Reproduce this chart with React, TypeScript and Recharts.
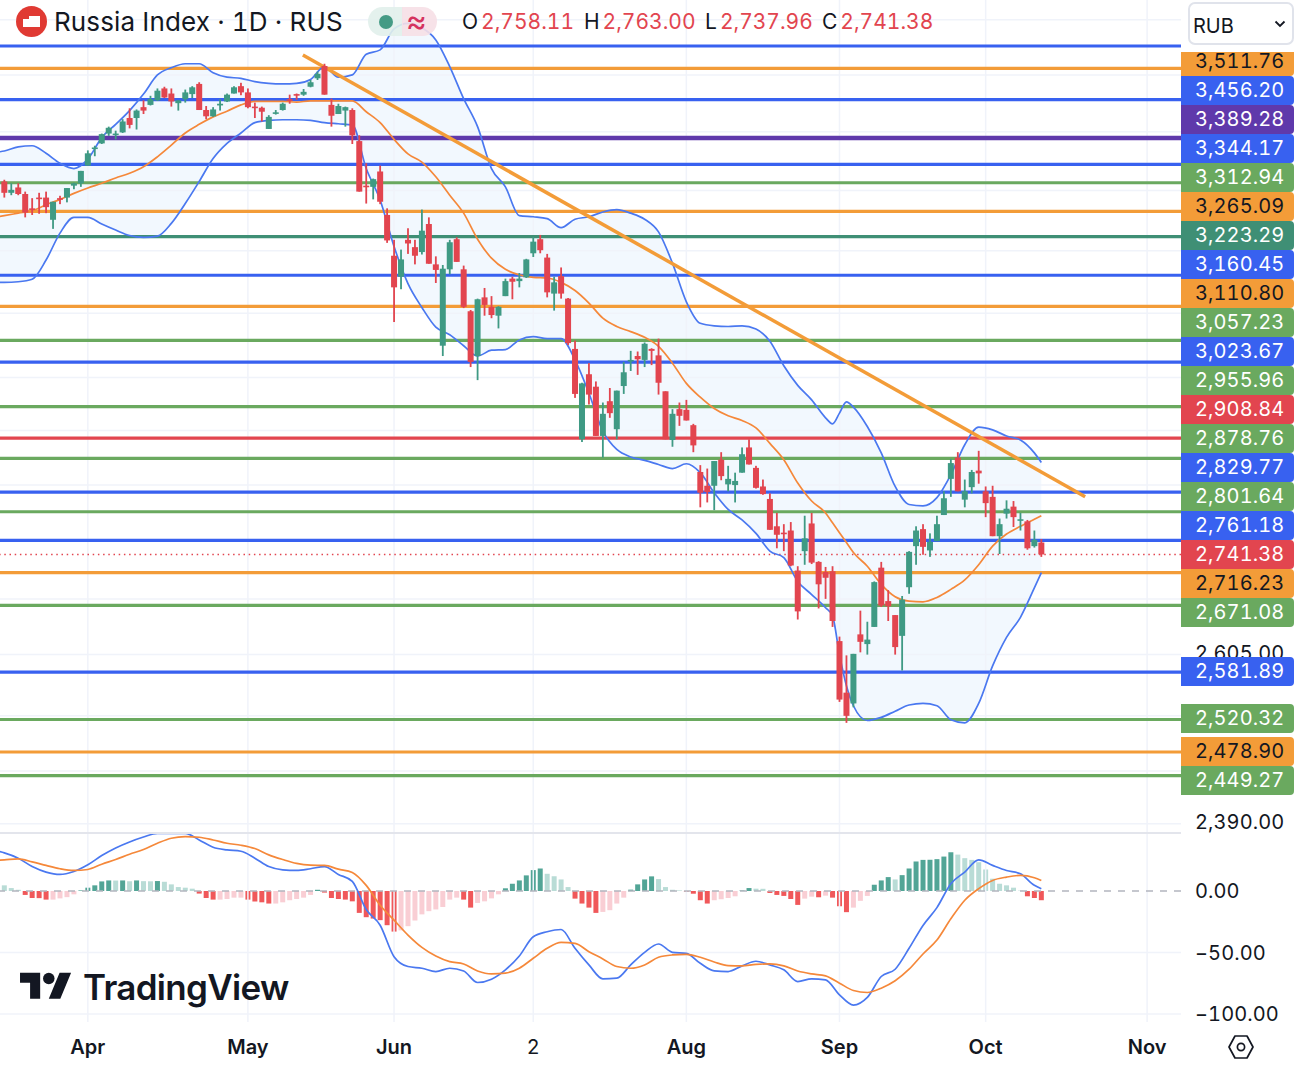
import { Area, Bar, Cell, ComposedChart, Line, ReferenceLine, XAxis, YAxis } from 'recharts'

const opens = [
  3315, 3296, 3305, 3294, 3270, 3288, 3288, 3251, 3287, 3288,
  3308, 3312, 3342, 3371, 3380, 3397, 3396, 3399, 3424, 3424,
  3443, 3447, 3455, 3476, 3467, 3450, 3457, 3466, 3484, 3438,
  3427, 3446, 3453, 3467, 3480, 3469, 3444, 3442, 3405, 3432,
  3438, 3457, 3466, 3465, 3479, 3494, 3516, 3447, 3431, 3437,
  3438, 3384, 3308, 3306, 3332, 3259, 3192, 3158, 3218, 3206,
  3198, 3244, 3178, 3049, 3170, 3219, 3170, 3103, 3033, 3125,
  3110, 3096, 3127, 3155, 3151, 3157, 3196, 3219, 3189, 3131,
  3159, 3123, 3044, 2907, 3005, 2986, 2912, 2964, 2922, 2987,
  3025, 3033, 3027, 3044, 3034, 2979, 2906, 2952, 2951, 2928,
  2859, 2839, 2839, 2877, 2841, 2840, 2858, 2895, 2865, 2838,
  2820, 2781, 2772, 2775, 2719, 2746, 2785, 2731, 2717, 2718,
  2623, 2555, 2541, 2632, 2619, 2642, 2723, 2677, 2658, 2630,
  2696, 2753, 2777, 2747, 2760, 2797, 2849, 2880, 2819, 2837,
  2861, 2831, 2823, 2767, 2799, 2809, 2789, 2788, 2753, 2758.11,
]
const highs = [
  3318, 3312, 3312, 3298, 3287, 3296, 3298, 3281, 3291, 3304,
  3313, 3333, 3368, 3376, 3397, 3409, 3402, 3422, 3441, 3439,
  3455, 3463, 3476, 3479, 3476, 3455, 3474, 3480, 3487, 3445,
  3443, 3457, 3467, 3480, 3486, 3476, 3451, 3444, 3429, 3438,
  3451, 3465, 3467, 3475, 3491, 3506, 3520, 3458, 3449, 3444,
  3441, 3394, 3346, 3320, 3342, 3270, 3218, 3202, 3237, 3218,
  3268, 3255, 3191, 3177, 3218, 3222, 3176, 3105, 3123, 3140,
  3127, 3111, 3155, 3158, 3164, 3187, 3223, 3226, 3195, 3158,
  3173, 3124, 3057, 2992, 3022, 2994, 2962, 2984, 2980, 3024,
  3041, 3040, 3054, 3045, 3060, 2979, 2952, 2962, 2966, 2930,
  2869, 2864, 2875, 2888, 2868, 2858, 2895, 2907, 2868, 2848,
  2828, 2800, 2784, 2787, 2725, 2796, 2800, 2732, 2724, 2725,
  2629, 2604, 2606, 2664, 2649, 2704, 2731, 2692, 2658, 2684,
  2746, 2781, 2784, 2771, 2796, 2831, 2878, 2888, 2848, 2862,
  2890, 2838, 2839, 2792, 2818, 2817, 2800, 2790, 2775, 2763,
]
const lows = [
  3288, 3292, 3292, 3255, 3259, 3261, 3262, 3236, 3277, 3280,
  3302, 3306, 3342, 3358, 3379, 3393, 3387, 3398, 3406, 3404,
  3431, 3446, 3454, 3459, 3444, 3437, 3451, 3459, 3438, 3422,
  3426, 3437, 3452, 3467, 3464, 3441, 3424, 3418, 3405, 3430,
  3437, 3449, 3456, 3463, 3478, 3491, 3465, 3409, 3431, 3409,
  3379, 3298, 3278, 3285, 3277, 3213, 3086, 3138, 3195, 3178,
  3194, 3179, 3148, 3033, 3162, 3182, 3108, 3016, 2996, 3096,
  3092, 3076, 3127, 3122, 3141, 3156, 3190, 3196, 3125, 3104,
  3123, 3050, 2969, 2903, 2959, 2912, 2880, 2939, 2907, 2975,
  3010, 3004, 3016, 3019, 2974, 2907, 2896, 2927, 2935, 2888,
  2808, 2815, 2804, 2847, 2831, 2815, 2858, 2870, 2835, 2826,
  2776, 2750, 2746, 2725, 2652, 2727, 2728, 2667, 2680, 2642,
  2543, 2516, 2536, 2608, 2605, 2642, 2669, 2650, 2605, 2584,
  2687, 2727, 2741, 2738, 2760, 2797, 2823, 2831, 2808, 2828,
  2842, 2794, 2767, 2742, 2792, 2780, 2775, 2748, 2751, 2737.96,
]
const closes = [
  3296, 3301, 3294, 3263, 3269, 3287, 3272, 3281, 3285, 3304,
  3312, 3333, 3363, 3373, 3396, 3407, 3397, 3418, 3412, 3437,
  3437, 3457, 3472, 3460, 3453, 3455, 3469, 3478, 3438, 3427,
  3439, 3449, 3465, 3478, 3469, 3443, 3442, 3435, 3426, 3434,
  3449, 3456, 3464, 3470, 3487, 3502, 3465, 3428, 3445, 3443,
  3394, 3298, 3306, 3319, 3281, 3217, 3141, 3186, 3212, 3192,
  3233, 3179, 3169, 3171, 3214, 3182, 3110, 3024, 3122, 3113,
  3097, 3110, 3151, 3150, 3155, 3186, 3215, 3201, 3133, 3149,
  3131, 3053, 2975, 2991, 2974, 2912, 2945, 2946, 2980, 3008,
  3027, 3028, 3052, 3041, 2992, 2907, 2945, 2942, 2935, 2898,
  2829, 2830, 2875, 2853, 2849, 2846, 2885, 2870, 2836, 2827,
  2776, 2769, 2770, 2726, 2663, 2764, 2730, 2700, 2709, 2650,
  2546, 2525, 2606, 2622, 2625, 2703, 2671, 2670, 2615, 2679,
  2745, 2775, 2752, 2759, 2784, 2821, 2872, 2831, 2831, 2859,
  2857, 2814, 2767, 2784, 2806, 2794, 2791, 2750, 2762, 2741.38,
]

// bollinger vertices, read every second session plus the spike around 119-121
const bandIdx = [
  -1, 0, 2, 4, 6, 8, 10, 12, 14, 16, 18, 20, 22, 24, 26, 28, 30, 32, 34, 36, 38,
  40, 42, 44, 46, 48, 50, 52, 54, 56, 58, 60, 62, 64, 66, 68, 70, 72, 74, 76, 78,
  80, 82, 84, 86, 88, 90, 92, 94, 96, 98, 100, 102, 104, 106, 108, 110, 112, 114, 116, 118,
  119, 120, 121, 122, 124, 126, 128, 130, 132, 134, 136, 138, 140, 142, 144, 146, 148, 149,
]
const bbUpper = [
  3365, 3367, 3374, 3376, 3363, 3346, 3337, 3353, 3390, 3413, 3437, 3466, 3500, 3513, 3520, 3520, 3504, 3496, 3494, 3488, 3485,
  3484, 3485, 3492, 3515, 3496, 3500, 3537, 3545, 3583, 3593, 3585, 3563, 3515, 3458, 3409, 3337, 3306, 3258, 3256, 3253,
  3238, 3252, 3256, 3264, 3268, 3262, 3252, 3231, 3180, 3118, 3084, 3080, 3079, 3080, 3075, 3056, 3018, 2988, 2966, 2939,
  2930, 2946, 2963, 2955, 2926, 2887, 2838, 2812, 2810, 2822, 2855, 2899, 2925, 2921, 2912, 2906, 2887, 2873,
]
const bbLower = [
  3149, 3149, 3150, 3154, 3185, 3229, 3255, 3255, 3244, 3234, 3225, 3222, 3224, 3245, 3278, 3315, 3354, 3380, 3398, 3416, 3420,
  3421, 3421, 3420, 3416, 3414, 3412, 3337, 3284, 3207, 3147, 3109, 3078, 3066, 3049, 3033, 3042, 3043, 3058, 3063, 3060,
  3060, 3027, 2976, 2919, 2892, 2881, 2876, 2870, 2864, 2871, 2858, 2829, 2805, 2790, 2771, 2746, 2737, 2704, 2686, 2668,
  2657, 2605, 2564, 2538, 2519, 2523, 2531, 2539, 2541, 2538, 2520, 2516, 2541, 2590, 2628, 2655, 2695, 2716,
]
const bbBasis = [
  3256, 3258, 3262, 3266, 3276, 3285, 3295, 3304, 3312, 3321, 3329, 3340, 3357, 3377, 3398, 3413, 3426, 3436, 3447, 3453, 3453,
  3453, 3452, 3454, 3454, 3454, 3454, 3435, 3416, 3387, 3362, 3348, 3323, 3292, 3262, 3219, 3188, 3170, 3161, 3157, 3156,
  3149, 3136, 3116, 3092, 3079, 3071, 3062, 3048, 3022, 2991, 2970, 2953, 2942, 2935, 2924, 2901, 2877, 2843, 2817, 2800,
  2786, 2772, 2758, 2744, 2725, 2700, 2683, 2677, 2676, 2682, 2693, 2706, 2727, 2753, 2770, 2781, 2791, 2796,
]

const macdIdx = [
  -1, 0, 2, 4, 6, 8, 10, 12, 14, 16, 18, 20, 22, 24, 26, 28, 30, 32, 34, 36, 38,
  40, 42, 44, 46, 48, 50, 52, 54, 56, 58, 60, 62, 64, 66, 68, 70, 72, 74, 76, 78,
  80, 82, 84, 86, 88, 90, 92, 94, 96, 98, 100, 102, 104, 106, 108, 110, 112, 114, 116, 118,
  120, 122, 124, 126, 128, 130, 132, 134, 136, 138, 140, 142, 144, 146, 148, 149,
]
const macdLine = [
  32.5, 31, 26.7, 19.9, 15.4, 13.5, 15.9, 21.3, 28.8, 35, 39.9, 43.9, 46.9, 46.9, 46.9, 41.5, 35.6, 33.4, 32.3, 26.7, 19.9,
  17.2, 16.7, 18.1, 19.9, 13.5, 7.8, -15.1, -27.8, -53.4, -61.4, -62.8, -65.5, -62.8, -65, -74.4, -71.7, -64.1, -52.8, -37.2, -33.1,
  -31.3, -46.6, -60.1, -71.4, -70.9, -60.1, -49.9, -43.1, -49.9, -50.7, -58.8, -65, -65.5, -60.9, -57.1, -60.1, -64.1, -73.6, -71.4, -72.2,
  -84.4, -92.7, -86.5, -69.5, -63.6, -46.6, -28, -13.5, 5.9, 15.4, 25.3, 20.8, 16.7, 14, 4.6, 1.9,
]
const signalLine = [
  25, 25.3, 26.1, 23.7, 20.8, 18.1, 16.7, 17.5, 21.8, 25.6, 29.9, 33.7, 38.8, 42.9, 44.2, 43.7, 41.5, 38.8, 37.2, 34.5, 29.4,
  25.6, 22.4, 21, 20.8, 17.8, 15.1, 4.6, -11.6, -23.7, -35.8, -45.8, -52.8, -57.4, -59.3, -65, -67.4, -66.8, -62.8, -54.7, -46.6,
  -41.8, -42.6, -49.3, -55.2, -61.4, -62.8, -60.1, -53.9, -52, -51.5, -53.9, -57.7, -60.6, -60.9, -59.6, -59.3, -60.9, -65, -67.4, -69,
  -74.9, -80.9, -82.5, -79, -73, -63.6, -51.2, -39.9, -22.6, -7.5, 1.9, 8.6, 11.3, 12.7, 10.8, 8.6,
]
const histogram = [
  4.6, 2.4, 1, -3.2, -5.7, -5.8, -7, -7, -6, -5,
  -2.7, 0.5, 2.7, 4.6, 7.8, 8.6, 8.5, 8.6, 8, 8.6,
  8, 7.9, 8.1, 7.5, 5.4, 3.2, 2.7, 1.9, -2.1, -5.7,
  -7, -7, -6.5, -5.4, -5.4, -7, -8.6, -9.2, -10.2, -10.2,
  -9.2, -7.5, -6.5, -5.4, -3.2, 1, -1.3, -5.7, -6.5, -7,
  -8.4, -17.8, -21.3, -22.4, -23.7, -27.8, -33, -32, -28.6, -24,
  -19, -16.4, -15, -13, -7, -5.4, -7, -13.5, -9.7, -8.4,
  -6, -2.7, 2.2, 5.9, 8.6, 12.7, 17, 18.3, 14, 12,
  9.4, 3.2, -6.2, -10.2, -13.5, -17.8, -17, -15.6, -10.2, -5.4,
  1.1, 5.4, 9.4, 11.9, 9.7, 3.2, 1, 0.5, -0.5, -2.2,
  -7.5, -10.2, -7.5, -6.7, -5.7, -4.3, 0.5, 2.4, 1.9, 1.8,
  -1.6, -3.2, -4, -6.5, -11.3, -6.2, -4.6, -5.1, -3.8, -5.4,
  -12.4, -17.2, -13.5, -8, -4, 5.1, 8.6, 11.3, 9.4, 12.9,
  18.3, 24, 25.3, 25.4, 25.9, 28, 31.5, 29.6, 26.7, 25.3,
  23.4, 17.5, 10, 5.9, 4.6, 2.7, 0.3, -4.3, -5.7, -7.5,
]

const gridPrices = [3600, 3500, 3400, 3300, 3200, 3100, 3000, 2920, 2840, 2760, 2680, 2605, 2525, 2455, 2390]
const priceTicks = [2605, 2390]
const macdTicks = [0, -50, -100]
const monthTicks = [12, 35, 56, 76, 98, 120, 141, 164.2]
const monthLabels = ['Apr', 'May', 'Jun', '2', 'Aug', 'Sep', 'Oct', 'Nov']

const BLUE = '#3861f0'
const ORANGE = '#f39c38'
const GREEN = '#6aa95f'
const TEAL = '#3f8f75'
const PURPLE = '#5f39ab'
const RED = '#e2454f'

const levelPrices = [
  3552, 3511.76, 3456.2, 3389.28, 3344.17, 3312.94, 3265.09, 3223.29, 3160.45, 3110.8, 3057.23, 3023.67,
  2955.96, 2908.84, 2878.76, 2829.77, 2801.64, 2761.18, 2716.23, 2671.08, 2581.89, 2520.32, 2478.9, 2449.27,
]
const levelColors = [
  BLUE, ORANGE, BLUE, PURPLE, BLUE, GREEN, ORANGE, TEAL, BLUE, ORANGE, GREEN, BLUE,
  GREEN, RED, GREEN, BLUE, GREEN, BLUE, ORANGE, GREEN, BLUE, GREEN, ORANGE, GREEN,
]

const tagLabels = [
  '3,511.76', '3,456.20', '3,389.28', '3,344.17', '3,312.94', '3,265.09', '3,223.29', '3,160.45', '3,110.80', '3,057.23',
  '3,023.67', '2,955.96', '2,908.84', '2,878.76', '2,829.77', '2,801.64', '2,761.18', '2,741.38', '2,716.23', '2,671.08',
  '2,581.89', '2,520.32', '2,478.90', '2,449.27',
]
const tagColors = [
  ORANGE, BLUE, PURPLE, BLUE, GREEN, ORANGE, TEAL, BLUE, ORANGE, GREEN,
  BLUE, GREEN, RED, GREEN, BLUE, GREEN, BLUE, RED, ORANGE, GREEN,
  BLUE, GREEN, ORANGE, GREEN,
]
const tagCenters = [61, 90, 119, 148, 177, 206, 235, 264, 293, 322, 351, 380, 409, 438, 467, 496, 525, 554, 583, 612, 671, 718, 751, 780]

const trendLine = [
  { x: 42.9, y: 3535.6 },
  { x: 155.3, y: 2823.2 },
]

const UP = '#3f9a84'
const DOWN = '#e2454f'
const GRID = '#f0f3fa'
const FONT = 'Inter, sans-serif'
const TEXT = '#131722'

// row 0 is the session just off the left edge, it only carries the lines
const rows: any[] = [{ i: -1 }]
closes.forEach((close, i) => {
  rows.push({
    i,
    open: opens[i],
    high: highs[i],
    low: lows[i],
    close,
    range: [lows[i], highs[i]],
    hist: histogram[i],
  })
})
bandIdx.forEach((idx, k) => {
  const row = rows[idx + 1]
  row.upper = bbUpper[k]
  row.lower = bbLower[k]
  row.basis = bbBasis[k]
  row.band = [bbLower[k], bbUpper[k]]
})
macdIdx.forEach((idx, k) => {
  const row = rows[idx + 1]
  row.macd = macdLine[k]
  row.signal = signalLine[k]
})

function histColor(i: number) {
  const v = histogram[i]
  if (v === undefined) return 'transparent'
  const prev = i > 0 ? histogram[i - 1] : v + 1
  if (v >= 0) return v > prev ? '#52a596' : '#b9dcd6'
  return v < prev ? '#f0585a' : '#f9ced4'
}

// wick spans the whole bar, the body position comes from the log ratio inside it
function Candle(props: any) {
  const { x, y, width, height, payload } = props
  const { open, high, low, close } = payload
  if (open === undefined) return null
  const span = Math.log(high / low) || 1
  const top = y + (height * Math.log(high / Math.max(open, close))) / span
  const bottom = y + (height * Math.log(high / Math.min(open, close))) / span
  const color = close >= open ? UP : DOWN
  const cx = x + width / 2 + 0.5
  return (
    <g>
      <rect x={cx - 0.9} y={y} width={1.8} height={height} fill={color} />
      <rect x={cx - width / 2} y={top} width={width} height={Math.max(bottom - top, 1.6)} fill={color} />
    </g>
  )
}

function MonthTick({ x, y, payload }: any) {
  const idx = monthTicks.indexOf(payload.value)
  const label = monthLabels[idx]
  return (
    <text
      x={x}
      y={y + 24}
      textAnchor="middle"
      fontFamily={FONT}
      fontSize={20}
      fontWeight={label === '2' ? 400 : 600}
      fill={TEXT}
    >
      {label}
    </text>
  )
}

function PriceTick({ x, y, payload }: any) {
  return (
    <text x={x} y={y - 2} dy="0.36em" textAnchor="start" fontFamily={FONT} fontSize={20} letterSpacing={0.1} fill={TEXT}>
      {Number(payload.value).toLocaleString('en-US', { minimumFractionDigits: 2 })}
    </text>
  )
}

const xDomain: [number, number] = [-0.618, 169.07]

function PricePane() {
  return (
    <ComposedChart width={1295} height={850} data={rows} margin={{ top: 0, right: 0, left: 0, bottom: 18 }}>
      <XAxis dataKey="i" type="number" domain={xDomain} hide allowDataOverflow />
      <YAxis
        orientation="right"
        width={114}
        scale="log"
        domain={[2379.9, 3636.2]}
        allowDataOverflow
        ticks={priceTicks}
        interval={0}
        axisLine={false}
        tickLine={false}
        tickMargin={8}
        tick={PriceTick}
      />
      {gridPrices.map((p) => (
        <ReferenceLine key={p} y={p} stroke={GRID} strokeWidth={1.5} />
      ))}
      {monthTicks.map((m) => (
        <ReferenceLine key={m} x={m} stroke={GRID} strokeWidth={1.5} />
      ))}
      <Area
        type="monotone"
        dataKey="band"
        connectNulls
        fill="#eaf4fd"
        fillOpacity={0.6}
        stroke="none"
        dot={false}
        activeDot={false}
        isAnimationActive={false}
      />
      {levelPrices.map((p, k) => (
        <ReferenceLine key={p} y={p} stroke={levelColors[k]} strokeWidth={p === 3389.28 ? 4.5 : 3.2} />
      ))}
      <ReferenceLine y={closes[closes.length - 1]} stroke={RED} strokeWidth={1.5} strokeDasharray="1.5 3.7" />
      <Line type="monotone" dataKey="upper" connectNulls stroke="#4a78f0" strokeWidth={1.7} dot={false} activeDot={false} isAnimationActive={false} />
      <Line type="monotone" dataKey="lower" connectNulls stroke="#4a78f0" strokeWidth={1.7} dot={false} activeDot={false} isAnimationActive={false} />
      <Line type="monotone" dataKey="basis" connectNulls stroke="#f5883a" strokeWidth={1.7} dot={false} activeDot={false} isAnimationActive={false} />
      <Bar dataKey="range" barSize={6} shape={Candle} isAnimationActive={false} zIndex={450} />
      <ReferenceLine segment={trendLine} stroke={ORANGE} strokeWidth={3.5} ifOverflow="visible" />
    </ComposedChart>
  )
}

function MacdPane() {
  return (
    <ComposedChart width={1295} height={237} data={rows} margin={{ top: 0, right: 0, left: 0, bottom: 0 }}>
      <XAxis
        dataKey="i"
        type="number"
        domain={xDomain}
        allowDataOverflow
        ticks={monthTicks}
        interval={0}
        height={47}
        axisLine={false}
        tickLine={false}
        tick={MonthTick}
      />
      <YAxis
        orientation="right"
        width={114}
        domain={[-106.5, 47.97]}
        allowDataOverflow
        ticks={macdTicks}
        interval={0}
        axisLine={false}
        tickLine={false}
        tickMargin={8}
        tick={{ fontSize: 20, fontFamily: FONT, fill: TEXT, textAnchor: 'start', letterSpacing: 0.1 }}
        tickFormatter={(v) => (v < 0 ? `\u2212${Math.abs(v).toFixed(2)}` : Number(v).toFixed(2))}
      />
      {macdTicks.slice(1).map((v) => (
        <ReferenceLine key={v} y={v} stroke={GRID} strokeWidth={1.5} />
      ))}
      {monthTicks.map((m) => (
        <ReferenceLine key={m} x={m} stroke={GRID} strokeWidth={1.5} />
      ))}
      <ReferenceLine y={0} stroke="#b2b5be" strokeWidth={1.5} strokeDasharray="7 7" />
      <Bar dataKey="hist" barSize={5} isAnimationActive={false}>
        {rows.map((r) => (
          <Cell key={r.i} fill={histColor(r.i)} />
        ))}
      </Bar>
      <Line type="monotone" dataKey="macd" connectNulls stroke="#4a78f0" strokeWidth={1.7} dot={false} activeDot={false} isAnimationActive={false} />
      <Line type="monotone" dataKey="signal" connectNulls stroke="#f5883a" strokeWidth={1.7} dot={false} activeDot={false} isAnimationActive={false} />
    </ComposedChart>
  )
}

const ohlc = [
  { letter: 'O', value: '2,758.11', left: 462 },
  { letter: 'H', value: '2,763.00', left: 584 },
  { letter: 'L', value: '2,737.96', left: 705 },
  { letter: 'C', value: '2,741.38', left: 822 },
]

function Header() {
  return (
    <div style={{ position: 'absolute', left: 0, top: 0, width: 1180, height: 44, fontFamily: FONT, color: TEXT }}>
      <svg style={{ position: 'absolute', left: 16, top: 6 }} width={31} height={31}>
        <circle cx={15.5} cy={15.5} r={15.5} fill="#e03a33" />
        <path d="M7 13h6v-3h11v11H7z" fill="#fff" />
      </svg>
      <div style={{ position: 'absolute', left: 54, top: 6, fontSize: 26, lineHeight: '32px', letterSpacing: 0.13, whiteSpace: 'pre' }}>
        Russia Index · 1D · RUS
      </div>
      <div style={{ position: 'absolute', left: 368, top: 7, width: 35, height: 29, background: '#e1efeb', borderRadius: '15px 0 0 15px', opacity: 0.9 }} />
      <div style={{ position: 'absolute', left: 402, top: 7, width: 35, height: 29, background: '#f6dfe6', borderRadius: '0 15px 15px 0', opacity: 0.9 }} />
      <svg style={{ position: 'absolute', left: 379, top: 15 }} width={14} height={14}>
        <circle cx={7} cy={7} r={7} fill="#459b85" />
      </svg>
      <div style={{ position: 'absolute', left: 406, top: 3, fontSize: 32, lineHeight: '36px', color: '#d5325f' }}>≈</div>
      {ohlc.map((o) => (
        <div key={o.letter} style={{ position: 'absolute', left: o.left, top: 8, fontSize: 21, lineHeight: '28px', letterSpacing: 0, whiteSpace: 'pre' }}>
          {o.letter}
          <span style={{ color: RED, marginLeft: 3 }}>{o.value}</span>
        </div>
      ))}
    </div>
  )
}

function PriceTags() {
  return (
    <>
      {tagLabels.map((label, k) => (
        <div
          key={label}
          style={{
            position: 'absolute',
            left: 1181,
            top: tagCenters[k] - 14.5,
            width: 113,
            height: 29,
            boxSizing: 'border-box',
            paddingLeft: 14,
            background: tagColors[k],
            color: tagColors[k] === ORANGE ? TEXT : '#fff',
            borderRadius: '0 4px 4px 0',
            fontFamily: FONT,
            fontSize: 20,
            letterSpacing: 0.1,
            lineHeight: '29px',
          }}
        >
          {label}
        </div>
      ))}
      <div style={{ position: 'absolute', left: 1181, top: 0, width: 114, height: 52, background: '#fff' }} />
      <div
        style={{
          position: 'absolute',
          left: 1188,
          top: 2,
          width: 106,
          height: 43,
          boxSizing: 'border-box',
          border: '2px solid #e0e3eb',
          borderRadius: 7,
          fontFamily: FONT,
          fontSize: 20,
          lineHeight: '44px',
          paddingLeft: 3,
          color: TEXT,
          background: '#fff',
        }}
      >
        RUB
        <svg style={{ position: 'absolute', left: 84, top: 16 }} width={12} height={8}>
          <path d="M1.5 1.5 6 6l4.5-4.5" fill="none" stroke={TEXT} strokeWidth={1.8} />
        </svg>
      </div>
    </>
  )
}

function Logo() {
  return (
    <>
      <svg style={{ position: 'absolute', left: 20, top: 967 }} width={54} height={40} viewBox="0 0 37.5 27.8">
        <path d="M14 22H7V11H0V4h14v18zM28 22h-8l7.5-18h8L28 22z" fill={TEXT} />
        <circle cx={20} cy={8} r={4} fill={TEXT} />
      </svg>
      <div
        style={{
          position: 'absolute',
          left: 83,
          top: 965,
          fontFamily: FONT,
          fontSize: 35,
          fontWeight: 600,
          lineHeight: '44px',
          letterSpacing: -0.7,
          color: TEXT,
        }}
      >
        TradingView
      </div>
    </>
  )
}

export default function App() {
  return (
    <div
      style={{
        position: 'absolute',
        left: 0,
        top: 0,
        width: 1295,
        height: 1069,
        background: '#fff',
        overflow: 'hidden',
        fontVariantNumeric: 'tabular-nums',
      }}
    >
      <div style={{ position: 'absolute', left: 0, top: 0 }}>
        <PricePane />
      </div>
      <div style={{ position: 'absolute', left: 0, top: 832 }}>
        <MacdPane />
      </div>
      <div style={{ position: 'absolute', left: 0, top: 832, width: 1181, height: 2, background: '#e3e5ec' }} />
      <Header />
      <PriceTags />
      <Logo />
      <svg style={{ position: 'absolute', left: 1227, top: 1034 }} width={28} height={26}>
        <path d="M8 2h12l6 11-6 11H8L2 13z" fill="none" stroke={TEXT} strokeWidth={1.7} strokeLinejoin="round" />
        <circle cx={14} cy={13} r={3.6} fill="none" stroke={TEXT} strokeWidth={1.7} />
      </svg>
    </div>
  )
}
